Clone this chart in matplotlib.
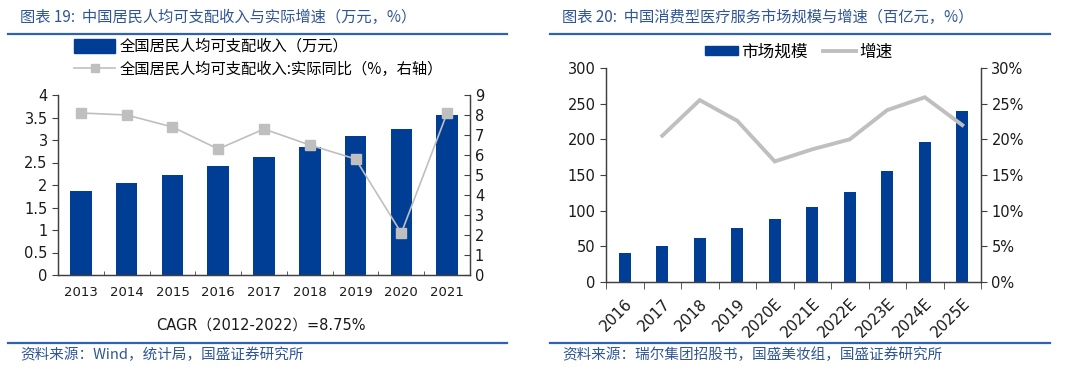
import matplotlib
matplotlib.use("Agg")
import numpy as np
import matplotlib.pyplot as plt
from matplotlib.lines import Line2D
from matplotlib.patches import Patch
from matplotlib.ticker import FuncFormatter

plt.rcParams["font.family"] = ["Noto Sans CJK SC", "DejaVu Sans"]
NUM = ["DejaVu Sans", "Noto Sans CJK SC"]

# ── data ──────────────────────────────────────────────────────────
years_l = ["2013", "2014", "2015", "2016", "2017", "2018", "2019", "2020", "2021"]
income = [1.86, 2.05, 2.23, 2.42, 2.63, 2.85, 3.10, 3.25, 3.55]
real_growth = [8.1, 8.0, 7.4, 6.3, 7.3, 6.5, 5.8, 2.1, 8.1]

years_r = ["2016", "2017", "2018", "2019", "2020E", "2021E", "2022E", "2023E", "2024E", "2025E"]
market = [41, 50, 62, 76, 89, 105, 126, 156, 196, 240]
growth = [np.nan, 20.5, 25.5, 22.6, 16.9, 18.6, 20.0, 24.1, 25.9, 22.0]

# ── style ─────────────────────────────────────────────────────────
BAR = "#003E96"
GREY = "#BFBFBF"
TITLE = "#2F5597"
RULE = "#2E62B4"
AXC = "#404040"
TXT = "#1A1A1A"

W, H = 1080, 377
fig = plt.figure(figsize=(W / 100, H / 100), dpi=100, facecolor="white")


def fx(px):
    return px / W


def fy(py):
    return 1 - py / H


def rule(x0, x1, y):
    fig.add_artist(Line2D([fx(x0), fx(x1)], [fy(y), fy(y)], color=RULE, lw=1.6))


def style_spines(ax, sides):
    for s, sp in ax.spines.items():
        sp.set_visible(s in sides)
        sp.set_color(AXC)
        sp.set_linewidth(0.9)


def num_font(ax, size):
    for lab in ax.get_xticklabels() + ax.get_yticklabels():
        lab.set_family(NUM)
        lab.set_fontsize(size)


# ── left panel ────────────────────────────────────────────────────
fig.text(fx(20), fy(17), "图表 19:  中国居民人均可支配收入与实际增速（万元，%）",
         fontsize=11, color=TITLE, va="center", ha="left")
rule(8, 507, 34)

ax1 = fig.add_axes([fx(58), fy(275), fx(412), (275 - 95) / H])
x1 = np.arange(len(years_l))
ax1.bar(x1, income, width=0.47, color=BAR, zorder=2)
ax1.set_xlim(-0.5, len(years_l) - 0.5)
ax1.set_ylim(0, 4)
ax1.set_yticks(np.arange(0, 4.01, 0.5))
ax1.yaxis.set_major_formatter(FuncFormatter(lambda v, p: f"{v:g}"))
ax1.set_xticks(x1)
ax1.set_xticklabels(years_l)
ax1.set_xticks(np.arange(-0.5, len(years_l), 1), minor=True)
ax1.tick_params(axis="x", which="major", length=0, pad=8, colors=TXT)
ax1.tick_params(axis="x", which="minor", length=3, direction="in", color=AXC)
ax1.tick_params(axis="y", length=4, direction="out", colors=TXT, color=AXC)
style_spines(ax1, ["left", "bottom", "right"])

ax1b = ax1.twinx()
ax1b.plot(x1, real_growth, color=GREY, lw=1.2, marker="s", ms=7, mfc=GREY, mec=GREY, zorder=3)
ax1b.set_ylim(0, 9)
ax1b.set_yticks(range(0, 10))
ax1b.tick_params(axis="y", length=4, direction="in", colors=TXT, color=AXC)
style_spines(ax1b, ["left", "bottom", "right"])
num_font(ax1, 10.5)
for lab in ax1.get_xticklabels():
    lab.set_fontsize(9.5)
num_font(ax1b, 10.5)

h1 = [Patch(facecolor=BAR, edgecolor=BAR),
      Line2D([], [], color=GREY, lw=1.2, marker="s", ms=6, mfc=GREY, mec=GREY)]
fig.legend(h1, ["全国居民人均可支配收入（万元）", "全国居民人均可支配收入:实际同比（%，右轴）"],
           loc="upper left", bbox_to_anchor=(fx(74), fy(38)), frameon=False,
           fontsize=11, handlelength=2.7, handleheight=1.0, handletextpad=0.3,
           labelspacing=0.4, borderaxespad=0, borderpad=0)

fig.text(fx(261), fy(325), "CAGR（2012-2022）=8.75%", fontsize=10.5, color=TXT,
         ha="center", va="center", family=NUM)
rule(8, 507, 343)
fig.text(fx(20), fy(355), "资料来源：Wind，统计局，国盛证券研究所", fontsize=10.5,
         color=TITLE, ha="left", va="center")

# ── right panel ───────────────────────────────────────────────────
fig.text(fx(562), fy(17), "图表 20:  中国消费型医疗服务市场规模与增速（百亿元，%）",
         fontsize=11, color=TITLE, va="center", ha="left")
rule(550, 1050, 34)

ax2 = fig.add_axes([fx(606), fy(282), fx(375), (282 - 68) / H])
x2 = np.arange(len(years_r))
ax2.bar(x2, market, width=0.31, color=BAR, zorder=2)
ax2.set_xlim(-0.5, len(years_r) - 0.5)
ax2.set_ylim(0, 300)
ax2.set_yticks(range(0, 301, 50))
ax2.set_xticks(x2)
ax2.set_xticklabels(years_r, rotation=45, ha="right", rotation_mode="anchor")
ax2.set_xticks(np.arange(-0.5, len(years_r), 1), minor=True)
ax2.tick_params(axis="x", which="major", length=0, pad=10, colors=TXT)
ax2.tick_params(axis="x", which="minor", length=5, direction="out", color=AXC)
ax2.tick_params(axis="y", length=4, direction="out", colors=TXT, color=AXC)
style_spines(ax2, ["left", "bottom", "right"])

ax2b = ax2.twinx()
ax2b.plot(x2, growth, color=GREY, lw=2.8, zorder=3, solid_joinstyle="miter")
ax2b.set_ylim(0, 30)
ax2b.set_yticks(range(0, 31, 5))
ax2b.yaxis.set_major_formatter(FuncFormatter(lambda v, p: f"{v:.0f}%"))
ax2b.tick_params(axis="y", length=4, direction="out", colors=TXT, color=AXC)
style_spines(ax2b, ["left", "bottom", "right"])
num_font(ax2, 10.5)
for lab in ax2.get_xticklabels():
    lab.set_fontsize(11)
num_font(ax2b, 10.5)

h2 = [Patch(facecolor=BAR, edgecolor=BAR), Line2D([], [], color=GREY, lw=2.8)]
fig.legend(h2, ["市场规模", "增速"], loc="center", ncol=2,
           bbox_to_anchor=(fx(799), fy(52)), frameon=False, fontsize=12,
           handlelength=2.0, handleheight=0.45, handletextpad=0.2, columnspacing=0.9,
           borderaxespad=0, borderpad=0)

rule(550, 1050, 343)
fig.text(fx(562), fy(355), "资料来源：瑞尔集团招股书，国盛美妆组，国盛证券研究所", fontsize=10.5,
         color=TITLE, ha="left", va="center")

fig.savefig("out.png", dpi=100, facecolor="white")
